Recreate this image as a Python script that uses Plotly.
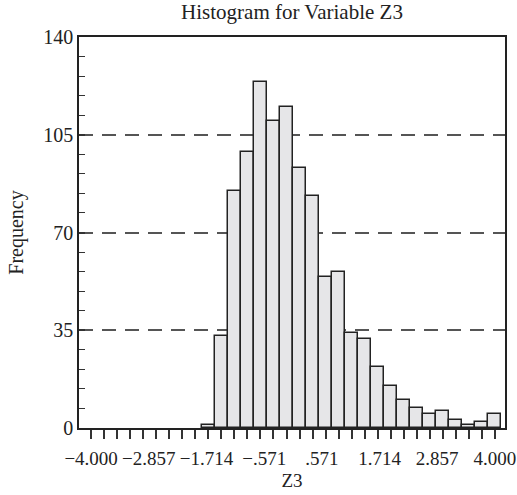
import plotly.graph_objects as go

# Data
counts = [1, 33, 85, 99, 124, 110, 115, 93, 83, 54, 56, 34, 32, 22, 15, 10, 7, 5, 6, 3, 1, 2, 5]
first_bin_index = 9          # index of the first non-empty bin
n_bins = 32                  # bins centred from -4 to 4
x_min, x_max = -4.0, 4.0
tick_values = [-4.0, -2.857, -1.714, -0.571, 0.571, 1.714, 2.857, 4.0]
tick_labels = ["\u22124.000", "\u22122.857", "\u22121.714", "\u2212.571", ".571", "1.714", "2.857", "4.000"]
y_ticks = [0, 35, 70, 105, 140]

bin_w = (x_max - x_min) / (n_bins - 1)
centers_all = [x_min + k * bin_w for k in range(n_bins)]
centers = centers_all[first_bin_index:first_bin_index + len(counts)]

font = "Liberation Serif, Times New Roman, serif"
ink = "#222222"

fig = go.Figure(go.Bar(
    x=centers, y=counts, width=bin_w,
    marker=dict(color="#e6e6e8", line=dict(color=ink, width=1.5)),
    hoverinfo="x+y",
))

fig.update_layout(
    width=517, height=495,
    margin=dict(l=79, r=12, t=37, b=67, autoexpand=False),
    paper_bgcolor="white", plot_bgcolor="white",
    font=dict(family=font, size=19, color=ink),
    title=dict(text="Histogram for Variable Z3", x=292/517, xanchor="center",
               y=1 - 12/495, yanchor="middle", font=dict(family=font, size=21, color=ink)),
    bargap=0, showlegend=False,
)

fig.update_xaxes(
    range=[-4.24, 4.2], automargin=False,
    tickmode="array", tickvals=tick_values, ticktext=tick_labels, tickangle=0,
    ticks="outside", ticklen=12, tickcolor="rgba(0,0,0,0)",
    showgrid=False, zeroline=False,
    showline=True, linecolor=ink, linewidth=1.5, mirror=True,
    tickfont=dict(family=font, size=19, color=ink),
    minor=dict(tickmode="array", tickvals=centers_all, ticks="outside",
               ticklen=9, tickwidth=1.5, tickcolor="#333333", showgrid=False),
    title=dict(text="Z3", font=dict(family=font, size=19, color=ink), standoff=6),
)

fig.update_yaxes(
    range=[0, 140], automargin=False,
    tickmode="array", tickvals=y_ticks,
    ticks="inside", ticklen=6, tickwidth=1.5, tickcolor="#333333",
    showgrid=True, gridcolor="#555555", gridwidth=1.5, griddash="14px,9px",
    zeroline=False,
    showline=True, linecolor=ink, linewidth=1.5, mirror=True,
    tickfont=dict(family=font, size=20, color=ink),
    minor=dict(dtick=7, tick0=0, ticks="inside", ticklen=6, tickwidth=1.2,
               tickcolor="#333333", showgrid=False),
    title=dict(text="Frequency", font=dict(family=font, size=20, color=ink), standoff=14),
)

fig.write_html("out.html", config={"displayModeBar": False},
               post_script="document.body.style.margin='0';")
